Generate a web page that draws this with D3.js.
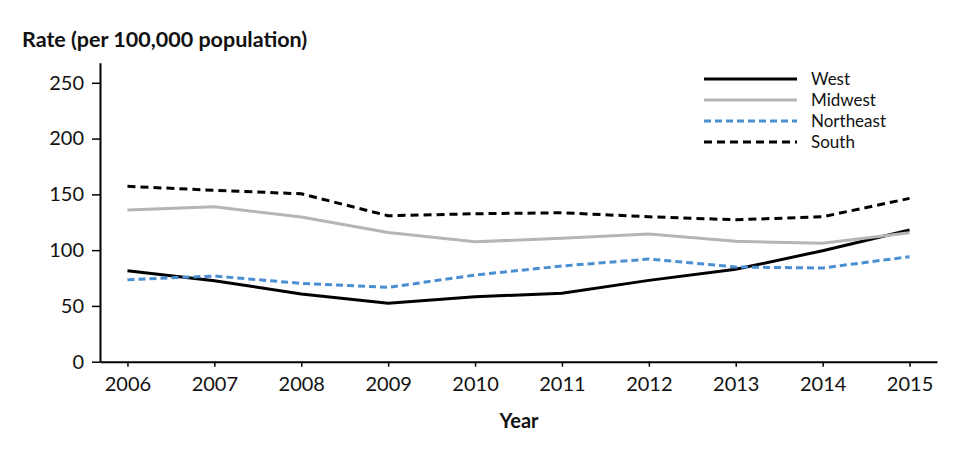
<!DOCTYPE html>
<html>
<head>
<meta charset="utf-8">
<script src="https://cdn.jsdelivr.net/npm/d3@7"></script>
<style>
  body { margin: 0; background: #fff; }
  text { font-family: Lato, "Open Sans", sans-serif; fill: #111; }
</style>
</head>
<body>
<div class="chart"></div>
<script>
// data
const years = [2006, 2007, 2008, 2009, 2010, 2011, 2012, 2013, 2014, 2015];
const west = [81.5, 72.6, 60.7, 52.3, 58.3, 61.3, 72.9, 82.8, 99.5, 118];
const midwest = [135.9, 138.9, 129.7, 115.9, 107.5, 110.6, 114.4, 107.9, 106.1, 115.6];
const northeast = [73.5, 76.8, 70.2, 66.6, 77.7, 85.8, 92.0, 84.9, 84.0, 94.1];
const south = [157.2, 153.6, 150.5, 130.8, 132.6, 133.5, 129.9, 127.2, 129.9, 146.4];
const yTicks = [0, 50, 100, 150, 200, 250];

const series = [
  { name: "West", values: west, color: "#000", dash: null },
  { name: "Midwest", values: midwest, color: "#b5b5b5", dash: null },
  { name: "Northeast", values: northeast, color: "#4a8fd1", dash: "7,4" },
  { name: "South", values: south, color: "#000", dash: "8,5" }
];

const width = 960, height = 458;
const svg = d3.select(".chart").append("svg")
  .attr("width", width)
  .attr("height", height);

const x = d3.scalePoint().domain(years).range([100, 937]).padding(0.316);
const y = d3.scaleLinear().domain([0, 268]).range([361.7, 62.7]);

// y axis
const yAxis = svg.append("g")
  .attr("transform", "translate(100,0)")
  .call(d3.axisLeft(y).tickValues(yTicks).tickSize(8).tickPadding(8).tickSizeOuter(0));
yAxis.select(".domain").attr("stroke", "#000").attr("stroke-width", 2);
yAxis.selectAll(".tick line").attr("stroke", "#000").attr("stroke-width", 1.5);
yAxis.selectAll(".tick text").attr("font-size", 20).attr("font-family", "Lato, sans-serif").attr("fill", "#111");

// x axis
const xAxis = svg.append("g")
  .attr("transform", "translate(0,361.7)")
  .call(d3.axisBottom(x).tickSize(5).tickPadding(10).tickSizeOuter(0));
xAxis.select(".domain").attr("stroke", "#000").attr("stroke-width", 2);
xAxis.selectAll(".tick line").attr("stroke", "#000").attr("stroke-width", 1.5);
xAxis.selectAll(".tick text").attr("font-size", 20).attr("font-family", "Lato, sans-serif").attr("fill", "#111");

// lines
const line = d3.line()
  .x((d, i) => x(years[i]))
  .y(d => y(d));

svg.selectAll(".series")
  .data(series)
  .enter()
  .append("path")
  .attr("class", "series")
  .attr("d", d => line(d.values))
  .attr("fill", "none")
  .attr("stroke", d => d.color)
  .attr("stroke-width", 3)
  .attr("stroke-dasharray", d => d.dash);

// legend
const legend = svg.append("g");
series.forEach((s, i) => {
  const ly = 79 + i * 21;
  legend.append("line")
    .attr("x1", 704).attr("x2", 797)
    .attr("y1", ly).attr("y2", ly)
    .attr("stroke", s.color)
    .attr("stroke-width", 3)
    .attr("stroke-dasharray", s.dash);
  legend.append("text")
    .attr("x", 811).attr("y", ly + 6)
    .attr("font-size", 17)
    .text(s.name);
});

// titles
svg.append("text")
  .attr("x", 22).attr("y", 47)
  .attr("font-size", 21.5)
  .attr("font-weight", "bold")
  .text("Rate (per 100,000 population)");

svg.append("text")
  .attr("x", 519).attr("y", 428)
  .attr("text-anchor", "middle")
  .attr("font-size", 20)
  .attr("font-weight", "bold")
  .text("Year");
</script>
</body>
</html>
